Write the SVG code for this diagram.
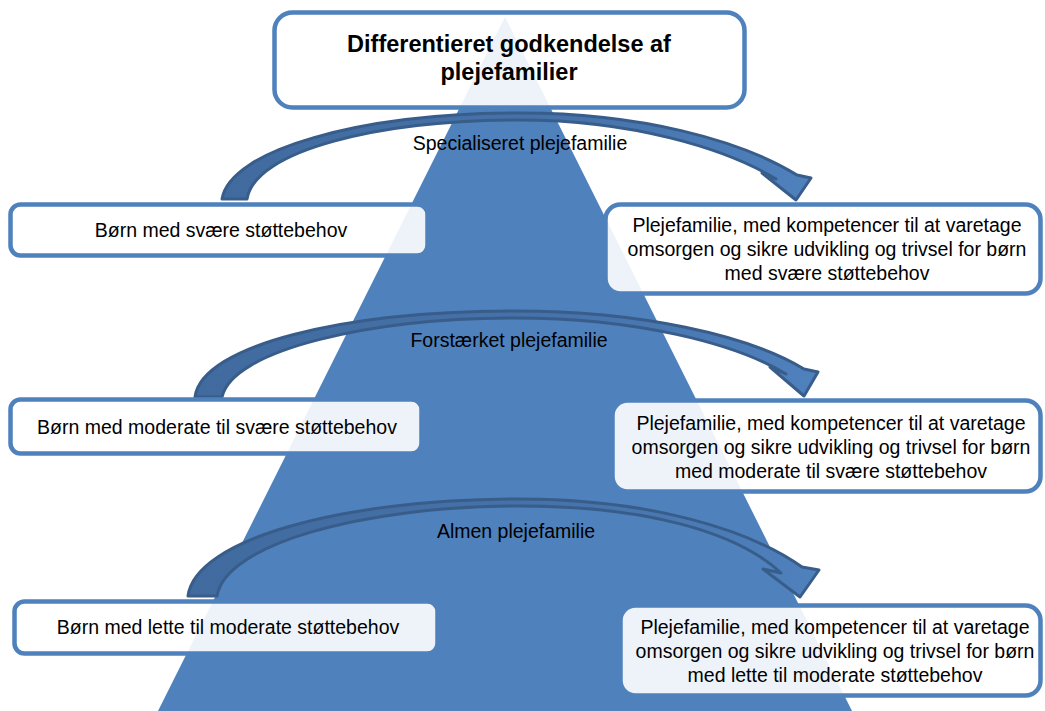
<svg xmlns="http://www.w3.org/2000/svg" width="1045" height="711" viewBox="0 0 1045 711">
  <style>
    .box { fill: #ffffff; fill-opacity: 0.9; stroke: #4F81BD; stroke-width: 4.5; }
    .arrow { fill: url(#arrowFill); stroke: #385D8A; stroke-width: 3; stroke-linejoin: round; }
    .t { font-family: "Liberation Sans", Arial, sans-serif; font-size: 19.5px; fill: #000000; text-anchor: middle; }
    .title { font-family: "Liberation Sans", Arial, sans-serif; font-size: 23.5px; font-weight: bold; fill: #000000; text-anchor: middle; }
  </style>
  <defs>
    <linearGradient id="arrowFill" x1="0" y1="0" x2="1" y2="0">
      <stop offset="0" stop-color="#416B9F"/>
      <stop offset="0.6" stop-color="#4673AB"/>
      <stop offset="1" stop-color="#4F81BD"/>
    </linearGradient>
  </defs>
  <rect width="1045" height="711" fill="#ffffff"/>

  <g id="pyramid">
    <polygon points="505,17 158,711 852,711" fill="#4F81BD"/>
  </g>

  <g id="connectors">
    <path class="arrow" d="M222,199 C230,150 360,113 520,113 C640,113 740,140 797,175 L811,178 L796,200 L762,173 L776,179 C725,148 630,120 520,120 C380,120 255,150 247,199 Z"/>
    <path class="arrow" d="M195,397 C202,345 345,311 515,311 C640,311 748,335 804,369 L818,372 L804,396 L770,367 L786,374 C735,343 635,318 515,318 C370,318 232,350 222,397 Z"/>
    <path class="arrow" d="M188,596 C195,540 340,499 520,499 C650,499 750,530 802,567 L819,570 L800,597 L763,569 L781,573 C735,530 640,506 520,506 C360,506 225,545 217,596 Z"/>
    <text class="t" x="520" y="150">Specialiseret plejefamilie</text>
    <text class="t" x="509" y="347">Forstærket plejefamilie</text>
    <text class="t" x="516" y="538">Almen plejefamilie</text>
  </g>

  <g id="title">
    <rect class="box" x="274.5" y="12.5" width="470" height="95" rx="18"/>
    <text class="title" x="509" y="52">Differentieret godkendelse af</text>
    <text class="title" x="509" y="80">plejefamilier</text>
  </g>

  <g id="left-1">
    <rect class="box" x="10.5" y="204.5" width="417" height="51" rx="10"/>
    <text class="t" x="221" y="237">Børn med svære støttebehov</text>
  </g>
  <g id="right-1">
    <rect class="box" x="605.5" y="204.5" width="435" height="89" rx="15"/>
    <text class="t" x="827" y="232">Plejefamilie, med kompetencer til at varetage</text>
    <text class="t" x="827" y="256">omsorgen og sikre udvikling og trivsel for børn</text>
    <text class="t" x="827" y="280">med svære støttebehov</text>
  </g>

  <g id="left-2">
    <rect class="box" x="10.5" y="399.5" width="411" height="54" rx="10"/>
    <text class="t" x="217" y="434">Børn med moderate til svære støttebehov</text>
  </g>
  <g id="right-2">
    <rect class="box" x="612.5" y="400.5" width="428" height="91" rx="15"/>
    <text class="t" x="831" y="430">Plejefamilie, med kompetencer til at varetage</text>
    <text class="t" x="831" y="454">omsorgen og sikre udvikling og trivsel for børn</text>
    <text class="t" x="831" y="478">med moderate til svære støttebehov</text>
  </g>

  <g id="left-3">
    <rect class="box" x="14.5" y="601.5" width="423" height="52" rx="10"/>
    <text class="t" x="228" y="634">Børn med lette til moderate støttebehov</text>
  </g>
  <g id="right-3">
    <rect class="box" x="620.5" y="605.5" width="420" height="90" rx="15"/>
    <text class="t" x="835" y="634">Plejefamilie, med kompetencer til at varetage</text>
    <text class="t" x="835" y="658">omsorgen og sikre udvikling og trivsel for børn</text>
    <text class="t" x="835" y="682">med lette til moderate støttebehov</text>
  </g>
</svg>
